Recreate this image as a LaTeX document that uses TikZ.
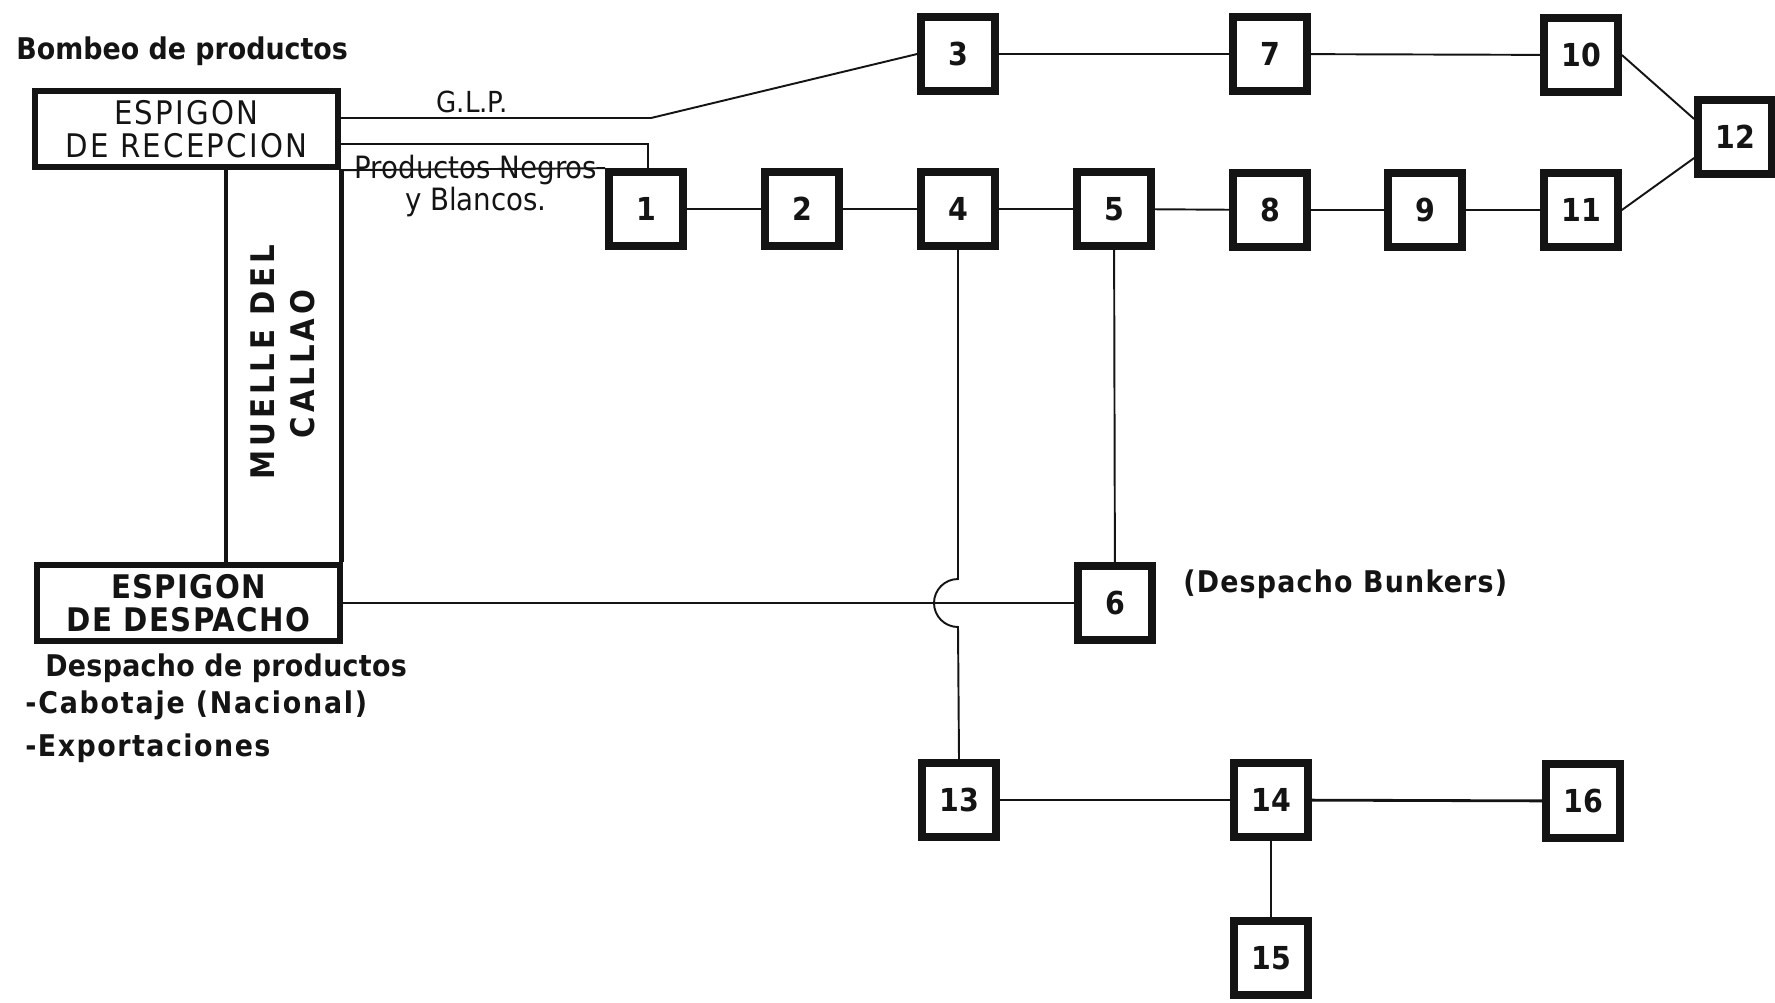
\documentclass[tikz,border=0pt]{standalone}
\usepackage{fontspec}
\setmainfont{DejaVu Sans Condensed}
\usepackage{xcolor}
\usetikzlibrary{calc}
\definecolor{inkblack}{RGB}{20,20,20}
\tikzset{
  tank/.style={draw=inkblack,line width=4.4pt,minimum size=1.48cm,
    inner sep=0pt,font=\fontsize{18}{20}\selectfont\bfseries,text=inkblack},
  pier/.style={draw=inkblack,line width=3.6pt,minimum width=6.06cm,
    minimum height=1.52cm,inner sep=0pt,align=center,
    font=\fontsize{18.5}{19}\selectfont\addfontfeature{LetterSpace=7},
    text=inkblack},
  pipe/.style={draw=inkblack,line width=1.1pt},
  quay/.style={draw=inkblack,line width=2.8pt},
  note/.style={inner sep=0pt,text=inkblack,
    font=\fontsize{17}{20}\selectfont\bfseries},
}

\begin{document}
\begin{tikzpicture}[x=0.02cm,y=-0.02cm]
\useasboundingbox (0,0) rectangle (1775,1002);
% piers
\node[pier](rec)
  at(186.5,129){ESPIGON\\DE RECEPCION};
\node[pier,font=\fontsize{18.5}{19}\selectfont\bfseries\addfontfeature{LetterSpace=4}](desp)
  at(188.5,603){ESPIGON\\DE DESPACHO};
\draw[quay]([xshift=0.79cm]rec.south) -- ([xshift=0.79cm]rec.south |- desp.north);
\draw[quay](rec.south east) -- (rec.south east |- desp.north);
\node[note,rotate=90,font=\fontsize{18.5}{19}\selectfont\bfseries\addfontfeature{LetterSpace=12}](muelle)
  at(263,362){MUELLE DEL};
\node[note,rotate=90,font=\fontsize{18.5}{19}\selectfont\bfseries\addfontfeature{LetterSpace=12}](callao)
  at(303,364){CALLAO};
% texts
\node[note,anchor=west](bombeo)
  at(16,51){Bombeo de productos};
\node[note,font=\fontsize{16.5}{16}\selectfont](glp)
  at(472,102){G.L.P.};
\node[note,align=center,font=\fontsize{17.5}{16}\selectfont](prodneg)
  at(476,186){Productos Negros\\y Blancos.};
\node[note,anchor=west,font=\fontsize{17}{20}\selectfont\bfseries\addfontfeature{LetterSpace=4}](bunkers)
  at(1183,584){(Despacho Bunkers)};
\node[note,anchor=west,font=\fontsize{17}{20}\selectfont\bfseries\addfontfeature{LetterSpace=1}](despt)
  at(45,668){Despacho de productos};
\node[note,anchor=west,font=\fontsize{17}{20}\selectfont\bfseries\addfontfeature{LetterSpace=6}](cabot)
  at(25,705){-Cabotaje (Nacional)};
\node[note,anchor=west,font=\fontsize{17}{20}\selectfont\bfseries\addfontfeature{LetterSpace=5}](export)
  at(25,748){-Exportaciones};
% tanks
\node[tank](t3) at(958,54){3};
\node[tank](t7) at(1270,54){7};
\node[tank](t10) at(1581,55){10};
\node[tank](t12) at(1735,137){12};
\node[tank](t1) at(646,209){1};
\node[tank](t2) at(802,209){2};
\node[tank](t4) at(958,209){4};
\node[tank](t5) at(1114,209){5};
\node[tank](t8) at(1270,210){8};
\node[tank](t9) at(1425,210){9};
\node[tank](t11) at(1581,210){11};
\node[tank](t6) at(1115,603){6};
\node[tank](t13) at(959,800){13};
\node[tank](t14) at(1271,800){14};
\node[tank](t16) at(1583,801){16};
\node[tank](t15) at(1271,958){15};
% lines
\coordinate(glpbend) at(651,118);
\coordinate(pnbend) at(648,144);
\draw[pipe]([yshift=0.22cm]rec.east) -- (glpbend) -- (t3.west);
\draw[pipe]([yshift=-0.3cm]rec.east) -- (pnbend) -- (pnbend |- t1.north);
\draw[pipe](rec.south east) -- (t1.north west);
\draw[pipe](t3) -- (t7);
\draw[pipe](t7) -- (t10);
\draw[pipe](t10.east) -- ([yshift=0.36cm]t12.west);
\draw[pipe](t11.east) -- ([yshift=-0.42cm]t12.west);
\draw[pipe](t1) -- (t2);
\draw[pipe](t2) -- (t4);
\draw[pipe](t4) -- (t5);
\draw[pipe](t5) -- (t8);
\draw[pipe](t8) -- (t9);
\draw[pipe](t9) -- (t11);
\draw[pipe](t5) -- (t6);
\draw[pipe](desp.east) -- (t6.west);
\coordinate(hop) at(t4 |- t6);
\draw[pipe](t4.south) -- ([yshift=0.48cm]hop)
  arc[start angle=90,end angle=270,radius=0.48cm] -- (t13.north);
\draw[pipe](t13) -- (t14);
\draw[pipe,line width=1.6pt](t14) -- (t16);
\draw[pipe](t14) -- (t15);
\end{tikzpicture}
\end{document}
